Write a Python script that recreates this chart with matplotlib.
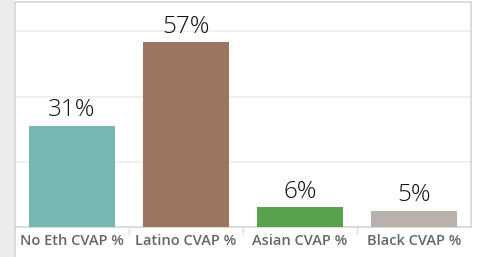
import matplotlib
matplotlib.use("Agg")
import matplotlib.pyplot as plt
from matplotlib.patches import Rectangle
from matplotlib.lines import Line2D

categories = ["No Eth CVAP %", "Latino CVAP %", "Asian CVAP %", "Black CVAP %"]
values = [31, 56.6, 6, 5]
labels = ["31%", "57%", "6%", "5%"]
colors = ["#76b7b2", "#9c755f", "#59a14f", "#bab0ac"]

W, H = 481, 257
fig = plt.figure(figsize=(W / 100, H / 100), dpi=100)
fig.patch.set_facecolor("white")

# left grey strip
fig.patches.append(Rectangle((0, 0), 14 / W, 1, transform=fig.transFigure,
                             facecolor="#ececec", edgecolor="none", zorder=0))

left, right, bottom, top = 15 / W, 471 / W, (H - 227) / H, (H - 2) / H
ax = fig.add_axes([left, bottom, right - left, top - bottom])
x = list(range(len(categories)))
ax.bar(x, values, width=0.75, color=colors, zorder=3)
ax.set_xlim(-0.5, len(categories) - 0.5)
ax.set_ylim(0, 69)
ax.set_yticks([20, 40, 60])
ax.yaxis.grid(True, color="#eeeeee", linewidth=1.2, zorder=0)
ax.tick_params(axis="y", left=False, labelleft=False)
ax.set_xticks(x)
ax.set_xticklabels(categories, fontsize=10.5, color="#666666", fontweight="semibold",
                   family="Open Sans")
ax.tick_params(axis="x", length=0, pad=5)
for s in ["left", "top", "right"]:
    ax.spines[s].set_color("#d4d4d4")
    ax.spines[s].set_linewidth(1.2)
ax.spines["bottom"].set_color("#d4d4d4")
ax.spines["bottom"].set_linewidth(1.2)

for xi, v, lab in zip(x, values, labels):
    ax.annotate(lab, (xi, v), xytext=(0, 2.5), textcoords="offset points",
                ha="center", va="bottom", fontsize=17.5, color="#111111",
                family="Open Sans", fontweight="light")

# separators under the axis between categories
for xi in [0.5, 1.5, 2.5]:
    ax.add_line(Line2D([xi, xi], [0, -0.03], transform=ax.get_xaxis_transform(),
                       color="#e0e0e0", linewidth=1, clip_on=False))
# left border continues into label area
fig.add_artist(Line2D([left, left], [0, bottom], transform=fig.transFigure,
                      color="#d4d4d4", linewidth=1.2))

fig.savefig("out.png", dpi=100)
